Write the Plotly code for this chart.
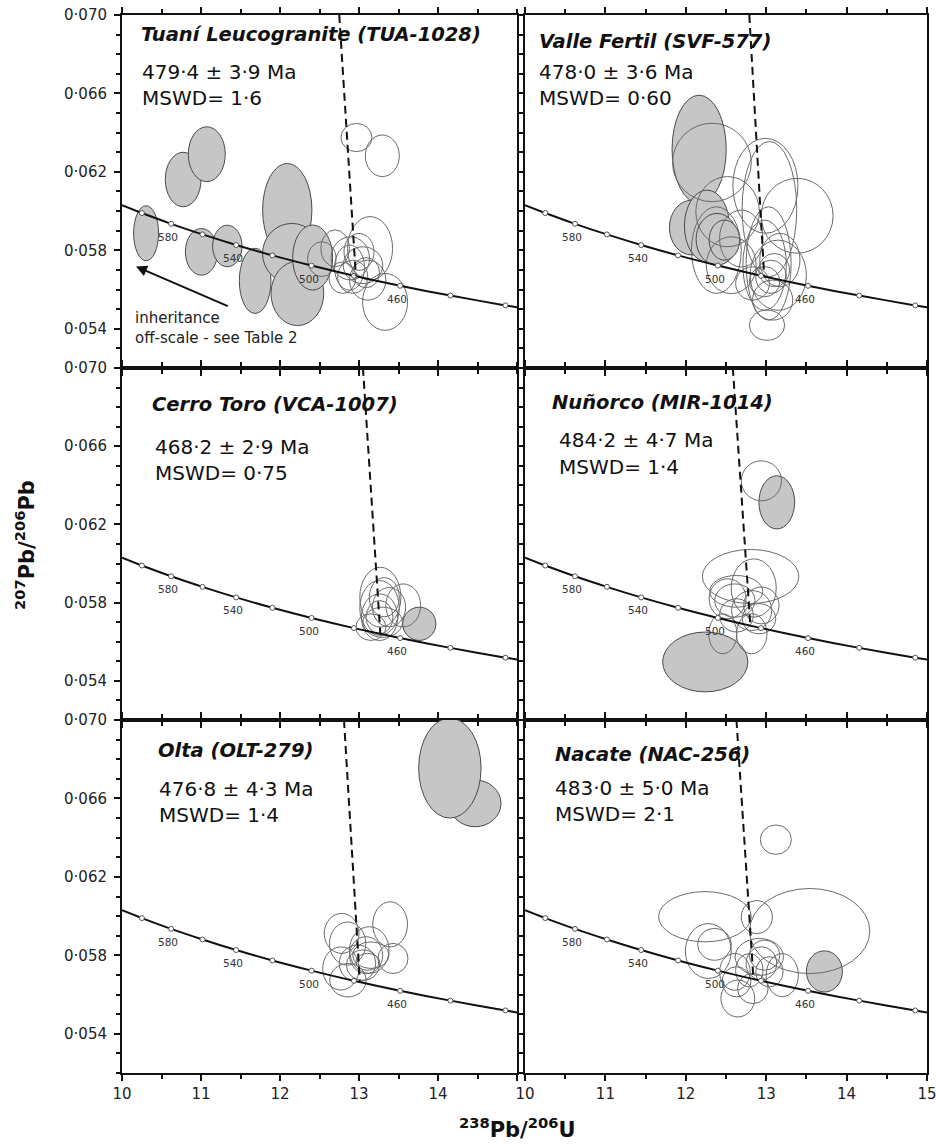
import plotly.graph_objects as go

W, H = 936, 1146
ML, MR, MT, MB = 122, 9, 15, 73
PW, PH = W - ML - MR, H - MT - MB

# ------------------------------------------------------------------ data
x_ticks = [10, 11, 12, 13, 14, 15]
x_tick_text_left = ["10", "11", "12", "13", "14", ""]
x_tick_text_right = ["10", "11", "12", "13", "14", "15"]
y_ticks = [0.054, 0.058, 0.062, 0.066, 0.070]
y_tick_text = ["0·054", "0·058", "0·062", "0·066", "0·070"]

# concordia curve (ends of the plot + 20 Ma age marks)
conc_x = [10.000, 10.252, 10.622, 11.019, 11.445, 11.904, 12.399, 12.936, 13.520, 14.157, 14.854, 15.000]
conc_y = [0.06030, 0.05990, 0.05935, 0.05881, 0.05827, 0.05774, 0.05722, 0.05670, 0.05619, 0.05569, 0.05519, 0.05509]
mark_age = [600, 580, 560, 540, 520, 500, 480, 460, 440, 420]
mark_x = [10.252, 10.622, 11.019, 11.445, 11.904, 12.399, 12.936, 13.520, 14.157, 14.854]
mark_y = [0.05990, 0.05935, 0.05881, 0.05827, 0.05774, 0.05722, 0.05670, 0.05619, 0.05569, 0.05519]
label_ages = [580, 540, 500, 460]

titles = ["Tuaní Leucogranite (TUA-1028)", "Valle Fertil (SVF-577)", "Cerro Toro (VCA-1007)",
          "Nuñorco (MIR-1014)", "Olta (OLT-279)", "Nacate (NAC-256)"]
ages = ["479·4 ± 3·9 Ma", "478·0 ± 3·6 Ma", "468·2 ± 2·9 Ma",
        "484·2 ± 4·7 Ma", "476·8 ± 4·3 Ma", "483·0 ± 5·0 Ma"]
mswd = ["MSWD= 1·6", "MSWD= 0·60", "MSWD= 0·75", "MSWD= 1·4", "MSWD= 1·4", "MSWD= 2·1"]

# regression (dashed) line: x at top of plot (0.070) and concordia intercept
dash_x_top = [12.75, 12.79, 13.05, 12.585, 12.81, 12.63]
dash_x_int = [12.96, 12.975, 13.27, 12.80, 13.01, 12.84]
dash_y_int = [0.0567, 0.0567, 0.0564, 0.0570, 0.0567, 0.0569]

# ellipses: (centre x, centre y, half-width x, half-height y)
TUA_filled = [(10.305, 0.05887, 0.158, 0.00140), (10.774, 0.06161, 0.226, 0.00139),
              (11.073, 0.06290, 0.234, 0.00140), (11.006, 0.05792, 0.204, 0.00119),
              (11.333, 0.05822, 0.186, 0.00106), (12.092, 0.06005, 0.312, 0.00238),
              (11.685, 0.05644, 0.200, 0.00166), (12.149, 0.05784, 0.370, 0.00153),
              (12.220, 0.05580, 0.334, 0.00164), (12.413, 0.05763, 0.253, 0.00166)]
TUA_open = [(12.968, 0.06375, 0.196, 0.00072), (13.295, 0.06282, 0.215, 0.00106),
            (12.698, 0.05810, 0.180, 0.00094), (13.140, 0.05810, 0.285, 0.00162),
            (13.330, 0.05537, 0.285, 0.00145), (12.890, 0.05759, 0.243, 0.00110),
            (12.880, 0.05712, 0.190, 0.00115), (13.050, 0.05724, 0.250, 0.00094),
            (13.110, 0.05648, 0.230, 0.00102), (12.920, 0.05665, 0.190, 0.00085),
            (13.000, 0.05792, 0.190, 0.00094), (13.090, 0.05686, 0.170, 0.00077),
            (12.530, 0.05755, 0.180, 0.00089), (12.790, 0.05660, 0.170, 0.00080)]

SVF_filled = [(12.166, 0.06315, 0.337, 0.00276), (12.076, 0.05916, 0.280, 0.00140),
              (12.263, 0.05924, 0.280, 0.00183), (12.388, 0.05856, 0.260, 0.00132),
              (12.480, 0.05852, 0.190, 0.00102)]
SVF_open = [(12.325, 0.06248, 0.490, 0.00200), (12.990, 0.06129, 0.405, 0.00242),
            (13.385, 0.05976, 0.447, 0.00191), (12.520, 0.05997, 0.395, 0.00179),
            (12.380, 0.05801, 0.310, 0.00221), (13.040, 0.06010, 0.340, 0.00345),
            (13.030, 0.05733, 0.280, 0.00289), (12.980, 0.05724, 0.270, 0.00230),
            (13.010, 0.05418, 0.220, 0.00077), (13.150, 0.05673, 0.350, 0.00179),
            (13.170, 0.05750, 0.250, 0.00136), (13.060, 0.05665, 0.190, 0.00085),
            (12.980, 0.05640, 0.190, 0.00077), (13.100, 0.05699, 0.190, 0.00085),
            (12.565, 0.05724, 0.310, 0.00145), (12.690, 0.05860, 0.270, 0.00145),
            (13.080, 0.05546, 0.250, 0.00102), (12.830, 0.05631, 0.210, 0.00085)]

VCA_filled = [(13.763, 0.05692, 0.210, 0.00085)]
VCA_open = [(13.27, 0.05828, 0.26, 0.00153), (13.26, 0.05773, 0.25, 0.00140),
            (13.26, 0.05726, 0.23, 0.00119), (13.56, 0.05786, 0.22, 0.00110),
            (13.15, 0.05675, 0.19, 0.00068), (13.30, 0.05700, 0.25, 0.00077),
            (13.38, 0.05777, 0.21, 0.00100), (13.26, 0.05726, 0.17, 0.00085),
            (13.32, 0.05828, 0.19, 0.00100)]

MIR_filled = [(13.132, 0.06313, 0.222, 0.00136), (12.242, 0.05497, 0.530, 0.00153)]
MIR_open = [(12.46, 0.05641, 0.175, 0.00102), (12.94, 0.06423, 0.25, 0.00102),
            (12.806, 0.05934, 0.60, 0.00138), (12.845, 0.05875, 0.28, 0.00149),
            (12.627, 0.05858, 0.33, 0.00081), (12.52, 0.05820, 0.23, 0.00102),
            (12.61, 0.05811, 0.25, 0.00085), (12.82, 0.05760, 0.25, 0.00102),
            (12.94, 0.05786, 0.22, 0.00094), (12.82, 0.05641, 0.19, 0.00102),
            (12.91, 0.05718, 0.21, 0.00077), (12.63, 0.05735, 0.21, 0.00085)]

OLT_filled = [(14.47, 0.06575, 0.327, 0.00119), (14.15, 0.06755, 0.395, 0.00255)]
OLT_open = [(13.394, 0.05958, 0.22, 0.00115), (12.78, 0.05912, 0.22, 0.00102),
            (12.856, 0.05860, 0.23, 0.00110), (13.13, 0.05827, 0.25, 0.00119),
            (13.43, 0.05784, 0.19, 0.00077), (12.77, 0.05733, 0.23, 0.00110),
            (12.86, 0.05673, 0.23, 0.00085), (12.98, 0.05759, 0.23, 0.00094),
            (13.09, 0.05801, 0.21, 0.00094), (13.15, 0.05801, 0.23, 0.00068),
            (13.05, 0.05750, 0.21, 0.00077), (13.11, 0.05767, 0.15, 0.00043)]

NAC_filled = [(13.724, 0.05718, 0.224, 0.00105)]
NAC_open = [(12.238, 0.05997, 0.576, 0.00128), (13.541, 0.05924, 0.748, 0.00217),
            (12.883, 0.05995, 0.193, 0.00085), (13.12, 0.06390, 0.193, 0.00075),
            (12.28, 0.05822, 0.285, 0.00140), (12.357, 0.05856, 0.21, 0.00081),
            (12.914, 0.05792, 0.30, 0.00094), (12.98, 0.05801, 0.19, 0.00077),
            (12.79, 0.05724, 0.17, 0.00085), (12.61, 0.05716, 0.19, 0.00094),
            (13.20, 0.05699, 0.20, 0.00110), (12.647, 0.05580, 0.21, 0.00094),
            (12.834, 0.05631, 0.19, 0.00077), (12.63, 0.05665, 0.18, 0.00077),
            (13.04, 0.05716, 0.17, 0.00077), (12.94, 0.05759, 0.19, 0.00085)]

filled_sets = [TUA_filled, SVF_filled, VCA_filled, MIR_filled, OLT_filled, NAC_filled]
open_sets = [TUA_open, SVF_open, VCA_open, MIR_open, OLT_open, NAC_open]

# inheritance arrow in the first panel (head, tail)
arrow_head = (10.177, 0.05717)
arrow_tail = (11.358, 0.05512)

# ------------------------------------------------------------------ layout helpers
FONT = "DejaVu Sans"
col_dom = [[0.0, 0.4907], [0.5006, 1.0]]
row_dom = [[0.6664, 1.0], [0.3336, 0.6664], [0.0, 0.3336]]

# text anchor positions in page pixels: (left x, title y, age left x, age y, mswd y)
text_pos = [(139, 35, 140, 72, 98), (537, 41, 537, 72, 98),
            (150, 405, 153, 447, 473), (550, 402, 557, 440, 467),
            (156, 750, 157, 789, 815), (553, 754, 553, 788, 814)]


def px(xp):
    return (xp - ML) / PW


def py(yp):
    return (MT + PH - yp) / PH


fig = go.Figure()
shapes = []
annotations = []

for i in range(6):
    row, col = i // 2, i % 2
    sx = "" if i == 0 else str(i + 1)
    xr, yr = "x" + sx, "y" + sx

    # ellipses (filled first, then open outlines)
    for (cx, cy, rx, ry) in filled_sets[i]:
        shapes.append(dict(type="circle", xref=xr, yref=yr, x0=cx - rx, x1=cx + rx,
                           y0=cy - ry, y1=cy + ry, fillcolor="#c6c6c6",
                           line=dict(color="#4a4a4a", width=1), layer="below"))
    for (cx, cy, rx, ry) in open_sets[i]:
        shapes.append(dict(type="circle", xref=xr, yref=yr, x0=cx - rx, x1=cx + rx,
                           y0=cy - ry, y1=cy + ry, fillcolor="rgba(0,0,0,0)",
                           line=dict(color="#6a6a6a", width=1), layer="below"))

    # concordia
    fig.add_trace(go.Scatter(x=conc_x, y=conc_y, mode="lines", xaxis=xr, yaxis=yr,
                             line=dict(color="#111", width=2, shape="spline", smoothing=0.8),
                             hoverinfo="skip", showlegend=False))
    fig.add_trace(go.Scatter(x=mark_x, y=mark_y, mode="markers", xaxis=xr, yaxis=yr,
                             marker=dict(symbol="circle", size=5, color="white",
                                         line=dict(color="#555", width=1)),
                             hoverinfo="skip", showlegend=False))
    # dashed regression line
    fig.add_trace(go.Scatter(x=[dash_x_top[i], dash_x_int[i]], y=[0.070, dash_y_int[i]],
                             mode="lines", xaxis=xr, yaxis=yr,
                             line=dict(color="#111", width=2, dash="8px,5px"),
                             hoverinfo="skip", showlegend=False))

    for a in label_ages:
        k = mark_age.index(a)
        annotations.append(dict(x=mark_x[k], y=mark_y[k], xref=xr, yref=yr, text=str(a),
                                showarrow=False, xshift=-3, yshift=-13,
                                font=dict(family=FONT, size=10.5, color="#333")))

    tx, ty, ax_, ay_, my_ = text_pos[i]
    annotations.append(dict(x=px(tx), y=py(ty), xref="paper", yref="paper",
                            text="<b><i>" + titles[i] + "</i></b>", showarrow=False,
                            xanchor="left", yanchor="middle",
                            font=dict(family=FONT, size=19.5, color="#111")))
    annotations.append(dict(x=px(ax_), y=py(ay_), xref="paper", yref="paper",
                            text=ages[i], showarrow=False, xanchor="left", yanchor="middle",
                            font=dict(family=FONT, size=20, color="#111")))
    annotations.append(dict(x=px(ax_), y=py(my_), xref="paper", yref="paper",
                            text=mswd[i], showarrow=False, xanchor="left", yanchor="middle",
                            font=dict(family=FONT, size=20, color="#111")))

    xaxis = dict(domain=col_dom[col], range=[10, 15], anchor=yr, automargin=False,
                 ticklabeloverflow="allow",
                 tickmode="array", tickvals=x_ticks,
                 ticktext=(x_tick_text_left if col == 0 else x_tick_text_right),
                 showticklabels=(row == 2), ticks="outside", ticklen=6, tickwidth=1.5,
                 tickcolor="#111", minor=dict(tickmode="linear", tick0=10, dtick=0.5,
                                              ticks="outside", ticklen=4, tickwidth=1.5,
                                              tickcolor="#111", showgrid=False),
                 showline=True, linewidth=2, linecolor="#111", mirror="ticks",
                 showgrid=False, zeroline=False,
                 tickfont=dict(family=FONT, size=15, color="#222"))
    yaxis = dict(domain=row_dom[row], range=[0.052, 0.070], anchor=xr, automargin=False,
                 ticklabeloverflow="allow",
                 tickmode="array", tickvals=y_ticks, ticktext=y_tick_text,
                 showticklabels=(col == 0), ticks="outside", ticklen=6, tickwidth=1.5,
                 tickcolor="#111", ticklabelstandoff=4,
                 minor=dict(tickmode="linear", tick0=0.052, dtick=0.001,
                            ticks="outside", ticklen=4, tickwidth=1.5,
                            tickcolor="#111", showgrid=False),
                 showline=True, linewidth=2, linecolor="#111",
                 mirror=("ticks" if col == 0 else True),
                 showgrid=False, zeroline=False,
                 tickfont=dict(family=FONT, size=15, color="#222"))
    fig.layout["xaxis" + sx] = xaxis
    fig.layout["yaxis" + sx] = yaxis

# inheritance note
annotations.append(dict(x=arrow_head[0], y=arrow_head[1], ax=arrow_tail[0], ay=arrow_tail[1],
                        xref="x", yref="y", axref="x", ayref="y", text="", showarrow=True,
                        arrowhead=2, arrowsize=1.1, arrowwidth=2, arrowcolor="#111"))
annotations.append(dict(x=px(133), y=py(328), xref="paper", yref="paper",
                        text="inheritance<br>off-scale - see Table 2", showarrow=False,
                        xanchor="left", yanchor="middle", align="left",
                        font=dict(family=FONT, size=15, color="#222")))

# axis titles
annotations.append(dict(x=px(25), y=py(545), xref="paper", yref="paper",
                        text="<b><sup>207</sup>Pb/<sup>206</sup>Pb</b>", showarrow=False,
                        textangle=-90, xanchor="center", yanchor="middle",
                        font=dict(family=FONT, size=21, color="#111")))
annotations.append(dict(x=px(517), y=py(1128), xref="paper", yref="paper",
                        text="<b><sup>238</sup>Pb/<sup>206</sup>U</b>", showarrow=False,
                        xanchor="center", yanchor="middle",
                        font=dict(family=FONT, size=21, color="#111")))

fig.update_layout(width=W, height=H, autosize=False,
                  margin=dict(l=ML, r=MR, t=MT, b=MB, pad=0, autoexpand=False),
                  paper_bgcolor="white", plot_bgcolor="white", showlegend=False,
                  shapes=shapes, annotations=annotations,
                  font=dict(family=FONT, color="#111"))

fig.write_html("out.html", config={"displayModeBar": False, "responsive": False},
               post_script="document.body.style.margin='0px';"
                           "document.body.style.overflow='hidden';")
